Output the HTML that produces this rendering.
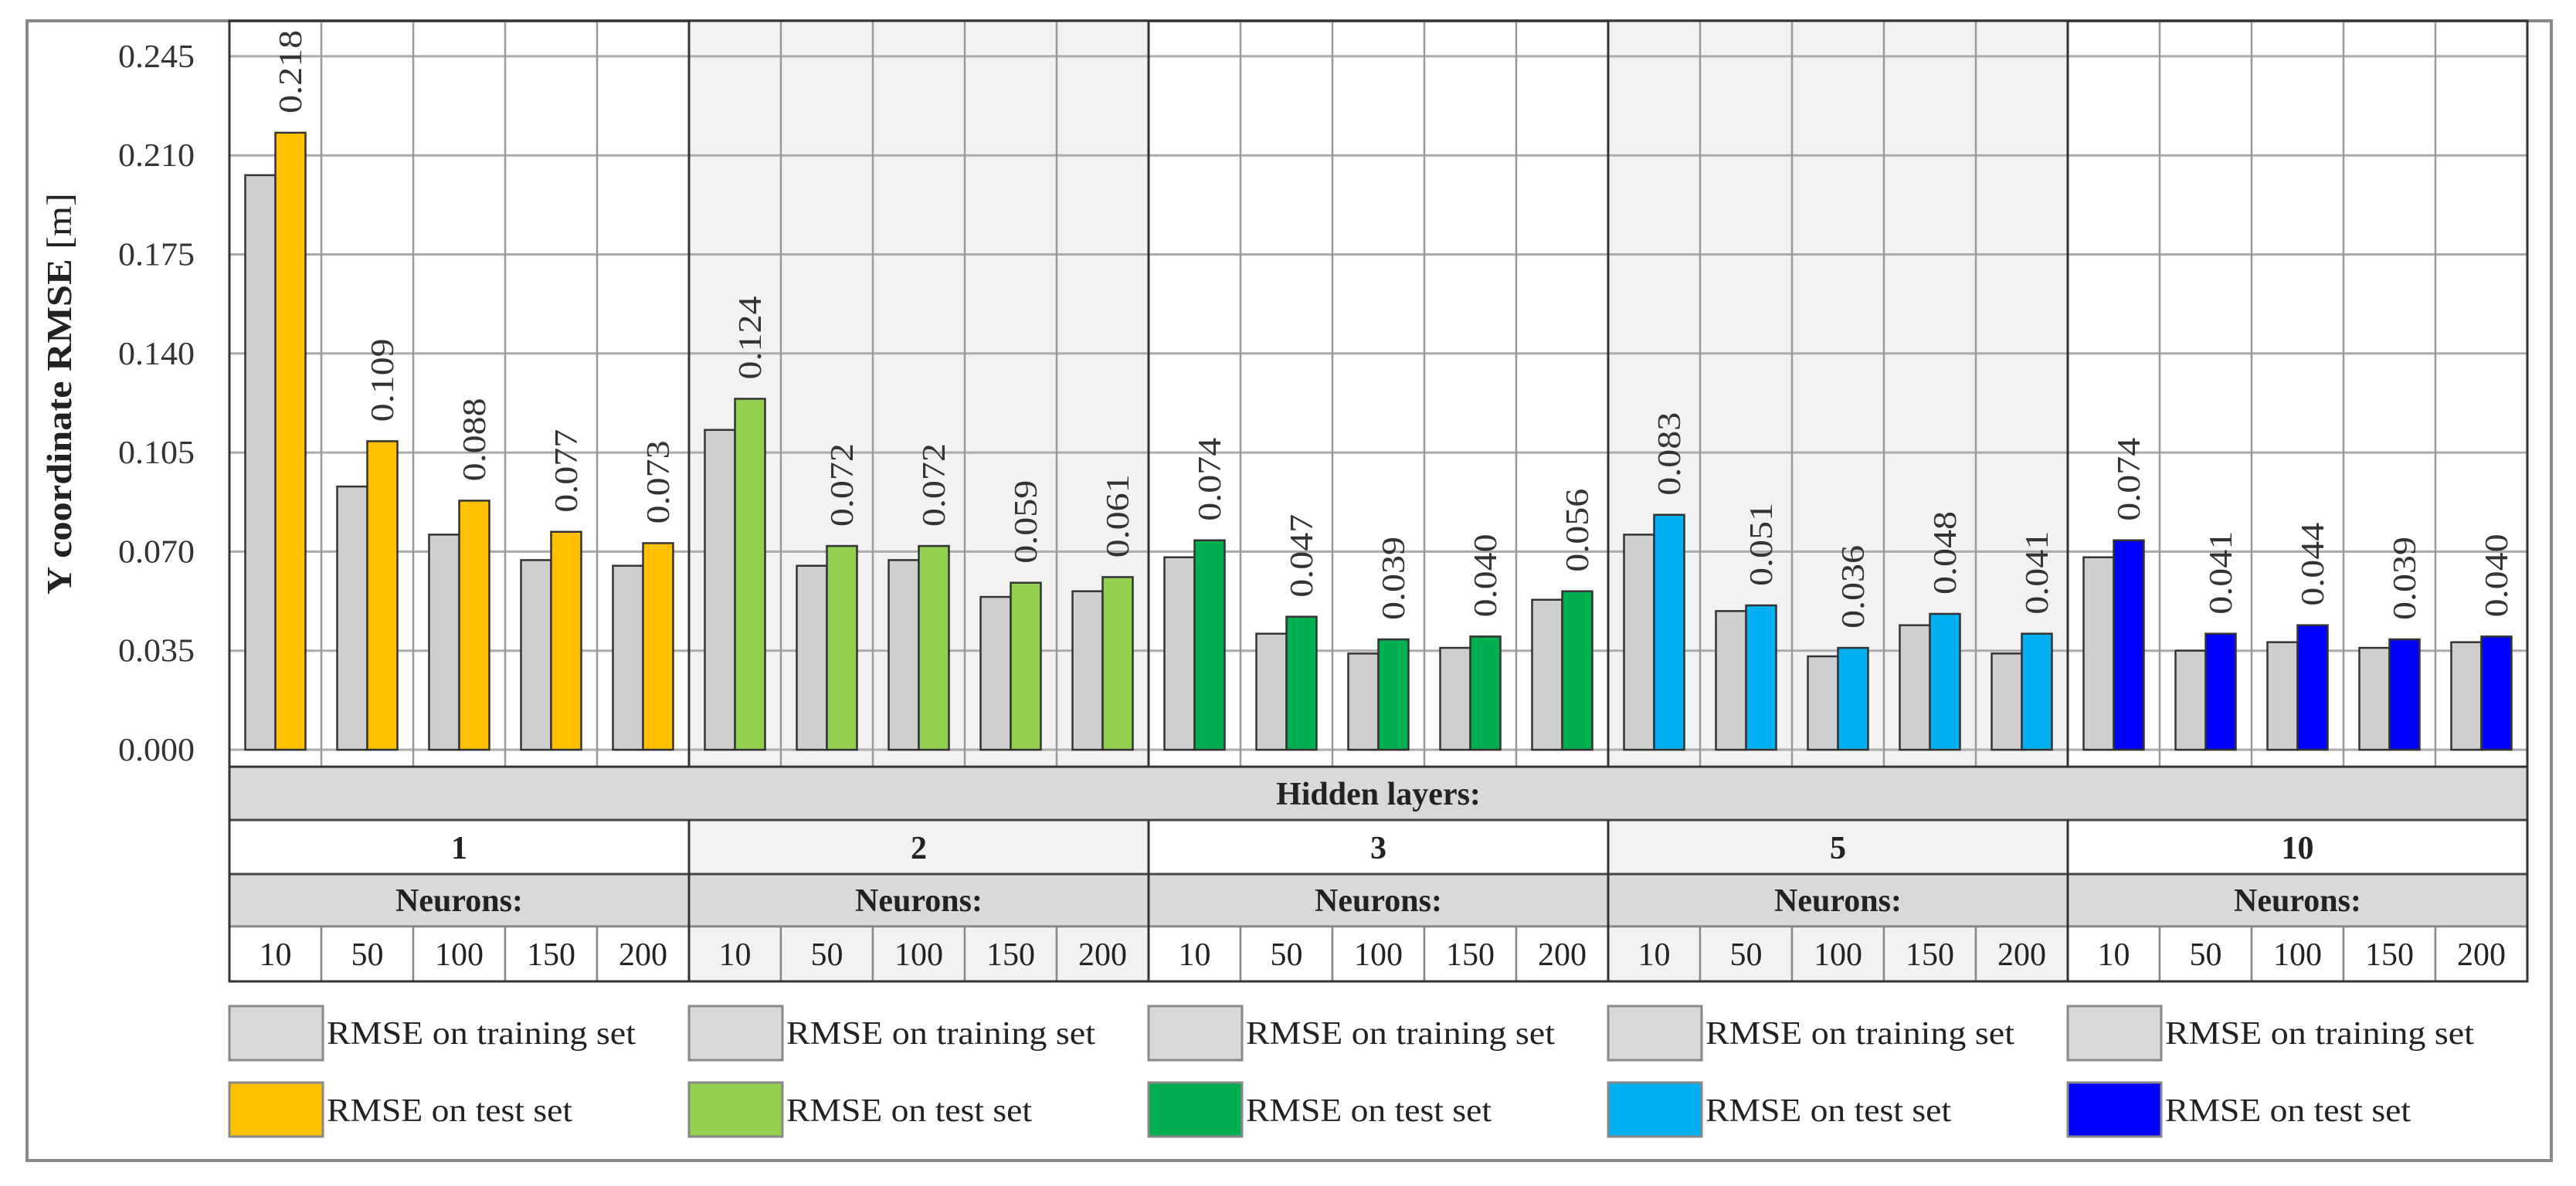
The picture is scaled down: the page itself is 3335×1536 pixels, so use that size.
<!DOCTYPE html>
<html><head><meta charset="utf-8"><style>
html,body{margin:0;padding:0;background:#fff;}
svg{display:block;font-family:"Liberation Serif",serif;}
</style></head><body>
<svg id="chart" width="3335" height="1536" viewBox="0 0 3335 1536">
<rect x="35" y="27" width="3268" height="1476" fill="#fff" stroke="#888" stroke-width="4"/>
<g id="bg"></g><g id="grid"></g><g id="bars"></g><g id="table"></g><g id="legend"></g>
<text transform="translate(92,510) rotate(-90)" text-anchor="middle" font-size="46" font-weight="bold" fill="#222" textLength="520" lengthAdjust="spacingAndGlyphs">Y coordinate RMSE <tspan font-weight="normal">[m]</tspan></text>
</svg>
<script>
const layers = ["1","2","3","5","10"];
const neurons = ["10","50","100","150","200"];
const trainVals = [
 [0.203,0.093,0.076,0.067,0.065],
 [0.113,0.065,0.067,0.054,0.056],
 [0.068,0.041,0.034,0.036,0.053],
 [0.076,0.049,0.033,0.044,0.034],
 [0.068,0.035,0.038,0.036,0.038]];
const testVals = [
 [0.218,0.109,0.088,0.077,0.073],
 [0.124,0.072,0.072,0.059,0.061],
 [0.074,0.047,0.039,0.040,0.056],
 [0.083,0.051,0.036,0.048,0.041],
 [0.074,0.041,0.044,0.039,0.040]];
const yTicks = [0,0.035,0.070,0.105,0.140,0.175,0.210,0.245];
const testColors = ["#ffc000","#92d050","#00b050","#00b0f0","#0000ff"];

const NS="http://www.w3.org/2000/svg";
const X0=297,X1=3272,Y0=971,TOP=27;
const GW=(X1-X0)/layers.length, CW=GW/neurons.length;
const yS=v=>Y0-v/0.035*128.3;
function mk(tag,attrs,parent,txt){const e=document.createElementNS(NS,tag);for(const k in attrs)e.setAttribute(k,attrs[k]);if(txt!==undefined)e.textContent=txt;parent.appendChild(e);return e;}
const bg=document.getElementById('bg'),grid=document.getElementById('grid'),bars=document.getElementById('bars'),tbl=document.getElementById('table'),leg=document.getElementById('legend');
layers.forEach((l,g)=>{if(g%2==1){const r=mk('rect',{x:X0+g*GW,y:TOP,width:GW,height:Y0+22-TOP,fill:'#f2f2f2'},bg);

}});
yTicks.forEach(t=>{const y=yS(t);const ln=mk('line',{x1:X0,x2:X1,y1:y,y2:y,stroke:'#aaa','stroke-width':3},grid);


const tx=mk('text',{x:252,y:y+14,'text-anchor':'end','font-size':42,fill:'#333',textLength:99,lengthAdjust:'spacingAndGlyphs'},grid,t.toFixed(3));

});
for(let i=0;i<=layers.length*neurons.length;i++){const x=X0+i*CW;const major=i%5==0;
const ln=mk('line',{x1:x,x2:x,y1:TOP,y2:Y0+22,stroke:major?'#333':'#999','stroke-width':major?3:2.5},grid);

}
mk('line',{x1:X0,x2:X1,y1:Y0+22,y2:Y0+22,stroke:'#555','stroke-width':3},grid);
layers.forEach((l,g)=>{neurons.forEach((n,j)=>{const cx=X0+g*GW+j*CW+CW/2;const bw=39;
const tv=trainVals[g][j],sv=testVals[g][j];
const r1=mk('rect',{x:cx-bw,y:yS(tv),width:bw,height:Y0-yS(tv),fill:'#d0cfd0',stroke:'#333','stroke-width':2.5},bars);


const r2=mk('rect',{x:cx,y:yS(sv),width:bw,height:Y0-yS(sv),fill:testColors[g],stroke:'#333','stroke-width':2.5},bars);


const lx=cx+bw/2+14, ly=yS(sv)-25;
const t=mk('text',{x:0,y:0,transform:`translate(${lx},${ly}) rotate(-90)`,'font-size':42,fill:'#333',textLength:108,lengthAdjust:'spacingAndGlyphs'},bars,sv.toFixed(3));

});});
const rows=[[993,1062],[1062,1132],[1132,1200],[1200,1271]];
mk('rect',{x:X0,y:rows[0][0],width:X1-X0,height:69,fill:'#d9d9d9',stroke:'#444','stroke-width':3},tbl);
const hl=mk('text',{x:(X0+X1)/2,y:1042,'text-anchor':'middle','font-size':42,'font-weight':'bold',fill:'#222'},tbl,'Hidden layers:');


layers.forEach((l,g)=>{const gx=X0+g*GW;const shade=g%2==1?'#f2f2f2':'#fff';
mk('rect',{x:gx,y:rows[1][0],width:GW,height:70,fill:shade,stroke:'#444','stroke-width':3},tbl);
const lt=mk('text',{x:gx+GW/2,y:1112,'text-anchor':'middle','font-size':42,'font-weight':'bold',fill:'#222'},tbl,l);


mk('rect',{x:gx,y:rows[2][0],width:GW,height:68,fill:'#d9d9d9',stroke:'#444','stroke-width':3},tbl);
const nt=mk('text',{x:gx+GW/2,y:1180,'text-anchor':'middle','font-size':42,'font-weight':'bold',fill:'#222'},tbl,'Neurons:');


neurons.forEach((n,j)=>{const x=gx+j*CW;
mk('rect',{x:x,y:rows[3][0],width:CW,height:71,fill:shade,stroke:'#888','stroke-width':2.5},tbl);
const t=mk('text',{x:x+CW/2,y:1250,'text-anchor':'middle','font-size':42,fill:'#222'},tbl,n);

});
mk('line',{x1:gx,x2:gx,y1:rows[1][0],y2:1271,stroke:'#333','stroke-width':3},tbl);
const b1=mk('rect',{x:gx,y:1303,width:121,height:70,fill:'#d9d9d9',stroke:'#888','stroke-width':3},leg);


const l1=mk('text',{x:gx+126,y:1352,'font-size':42,fill:'#222',textLength:400,lengthAdjust:'spacingAndGlyphs'},leg,'RMSE on training set');


const b2=mk('rect',{x:gx,y:1402,width:121,height:70,fill:testColors[g],stroke:'#888','stroke-width':3},leg);


const l2=mk('text',{x:gx+126,y:1452,'font-size':42,fill:'#222',textLength:318,lengthAdjust:'spacingAndGlyphs'},leg,'RMSE on test set');

});
mk('rect',{x:X0,y:993,width:X1-X0,height:278,fill:'none',stroke:'#333','stroke-width':3},tbl);
mk('rect',{x:X0,y:TOP,width:X1-X0,height:Y0+22-TOP,fill:'none',stroke:'#333','stroke-width':3},grid);
</script>
</body></html>
